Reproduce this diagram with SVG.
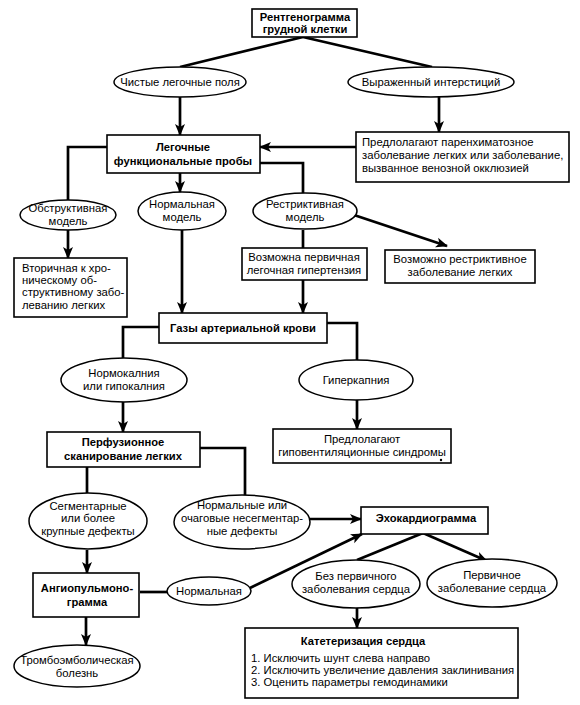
<svg xmlns="http://www.w3.org/2000/svg" width="580" height="705" viewBox="0 0 580 705">
<style>
.box{fill:#fff;stroke:#000;stroke-width:1.6}
.ell{fill:#fff;stroke:#000;stroke-width:1.5}
.t{font-family:"Liberation Sans",Arial,sans-serif;font-size:11.3px;fill:#000}
.b{font-family:"Liberation Sans",Arial,sans-serif;font-size:11.2px;font-weight:bold;fill:#000}
.m{text-anchor:middle}
.c{fill:none;stroke:#000;stroke-width:2.7}
.ca{fill:none;stroke:#000;stroke-width:2.7;marker-end:url(#ah)}
</style>
<defs>
<marker id="ah" markerUnits="userSpaceOnUse" markerWidth="12" markerHeight="12" viewBox="0 0 12 12" refX="11" refY="6" orient="auto">
<path d="M0,1 L12,6 L0,11 L3,6 Z" fill="#000"/>
</marker>
</defs>
<rect width="580" height="705" fill="#fff"/>
<g id="connectors">
<path class="c" d="M303,37 L180,67"/>
<path class="c" d="M303,37 L432,67"/>
<path class="ca" d="M180,97 L180,135"/>
<path class="ca" d="M439,97 L439,132"/>
<path class="ca" d="M356,147 L260,147"/>
<path class="c" d="M107,147 L68,147 L68,200"/>
<path class="c" d="M260,163 L303,163 L303,193"/>
<path class="ca" d="M180,173 L180,192"/>
<path class="ca" d="M68,230 L68,258"/>
<path class="ca" d="M182,230 L182,313"/>
<path class="c" d="M303,230 L303,248"/>
<path class="ca" d="M303,280 L303,313"/>
<path class="ca" d="M354,215 L447,246"/>
<path class="c" d="M159,327 L123,327 L123,358"/>
<path class="c" d="M327,323 L357,323 L357,360"/>
<path class="ca" d="M123,402 L123,432"/>
<path class="ca" d="M357,400 L357,429"/>
<path class="c" d="M87,467 L87,493"/>
<path class="c" d="M200,448 L245,448 L245,495"/>
<path class="ca" d="M310,519 L361,519"/>
<path class="ca" d="M87,550 L87,573"/>
<path class="c" d="M140,592 L167,592"/>
<path class="ca" d="M250,588 L362,534"/>
<path class="c" d="M423,533 L357,560"/>
<path class="ca" d="M423,533 L487,561"/>
<path class="ca" d="M357,608 L357,628"/>
<path class="ca" d="M86,617 L86,645"/>
</g>
<g id="xray">
<rect class="box" x="252" y="9" width="105" height="28"/>
<text class="b m" x="305" y="21">Рентгенограмма</text>
<text class="b m" x="305" y="33">грудной клетки</text>
</g>
<g id="clear">
<ellipse class="ell" cx="180" cy="82" rx="66" ry="15"/>
<text class="t m" x="180" y="86">Чистые легочные поля</text>
</g>
<g id="inter">
<ellipse class="ell" cx="431" cy="82" rx="83" ry="15"/>
<text class="t m" x="431" y="86">Выраженный интерстиций</text>
</g>
<g id="pft">
<rect class="box" x="107" y="135" width="153" height="38"/>
<text class="b m" x="183" y="151">Легочные</text>
<text class="b m" x="183" y="165">функциональные пробы</text>
</g>
<g id="parench">
<rect class="box" x="356" y="132" width="213" height="50"/>
<text class="t" x="362" y="146">Предлолагают паренхиматозное</text>
<text class="t" x="362" y="159">заболевание легких или заболевание,</text>
<text class="t" x="362" y="172">вызванное венозной окклюзией</text>
</g>
<g id="obstr">
<ellipse class="ell" cx="68" cy="215" rx="48" ry="15"/>
<text class="t m" x="68" y="212">Обструктивная</text>
<text class="t m" x="68" y="225">модель</text>
</g>
<g id="normal">
<ellipse class="ell" cx="182" cy="211" rx="44" ry="19"/>
<text class="t m" x="182" y="208">Нормальная</text>
<text class="t m" x="182" y="221">модель</text>
</g>
<g id="restr">
<ellipse class="ell" cx="305" cy="211" rx="52" ry="18"/>
<text class="t m" x="305" y="208">Рестриктивная</text>
<text class="t m" x="305" y="221">модель</text>
</g>
<g id="secondary">
<rect class="box" x="14" y="258" width="113" height="59"/>
<text class="t" x="22" y="272">Вторичная к хро-</text>
<text class="t" x="22" y="284">ническому об-</text>
<text class="t" x="22" y="296">структивному забо-</text>
<text class="t" x="22" y="309">леванию легких</text>
</g>
<g id="pph">
<rect class="box" x="242" y="248" width="125" height="32"/>
<text class="t m" x="304" y="261">Возможна первичная</text>
<text class="t m" x="304" y="274">легочная гипертензия</text>
</g>
<g id="restrdis">
<rect class="box" x="385" y="250" width="150" height="33"/>
<text class="t m" x="460" y="263">Возможно рестриктивное</text>
<text class="t m" x="460" y="276">заболевание легких</text>
</g>
<g id="abg">
<rect class="box" x="159" y="313" width="168" height="30"/>
<text class="b m" x="243" y="332">Газы артериальной крови</text>
</g>
<g id="normocap">
<ellipse class="ell" cx="124" cy="380" rx="63" ry="22"/>
<text class="t m" x="124" y="377">Нормокалния</text>
<text class="t m" x="124" y="390">или гипокалния</text>
</g>
<g id="hypercap">
<ellipse class="ell" cx="356" cy="380" rx="57" ry="20"/>
<text class="t m" x="356" y="384">Гиперкапния</text>
</g>
<g id="perf">
<rect class="box" x="47" y="432" width="153" height="35"/>
<text class="b m" x="123" y="446">Перфузионное</text>
<text class="b m" x="123" y="460">сканирование легких</text>
</g>
<g id="hypovent">
<rect class="box" x="273" y="429" width="178" height="34"/>
<text class="t m" x="362" y="443">Предлолагают</text>
<text class="t m" x="362" y="456">гиповентиляционные синдромы</text>
<circle cx="441" cy="460" r="1.2" fill="#000"/>
</g>
<g id="segm">
<ellipse class="ell" cx="88" cy="521" rx="59" ry="28"/>
<text class="t m" x="88" y="510">Сегментарные</text>
<text class="t m" x="88" y="522">или  более</text>
<text class="t m" x="88" y="535">крупные дефекты</text>
</g>
<g id="nonsegm">
<ellipse class="ell" cx="242" cy="522" rx="68" ry="27"/>
<text class="t m" x="242" y="509">Нормальные или</text>
<text class="t m" x="242" y="522">очаговые несегментар-</text>
<text class="t m" x="242" y="535">ные дефекты</text>
</g>
<g id="echo">
<rect class="box" x="361" y="507" width="127" height="27"/>
<text class="b m" x="426" y="522">Эхокардиограмма</text>
</g>
<g id="angio">
<rect class="box" x="33" y="573" width="106" height="44"/>
<text class="b m" x="87" y="592">Ангиопульмоно-</text>
<text class="b m" x="87" y="606">грамма</text>
</g>
<g id="angionorm">
<ellipse class="ell" cx="209" cy="591" rx="42" ry="14"/>
<text class="t m" x="209" y="595">Нормальная</text>
</g>
<g id="noheart">
<ellipse class="ell" cx="356" cy="584" rx="64" ry="24"/>
<text class="t m" x="356" y="580">Без первичного</text>
<text class="t m" x="356" y="593">заболевания сердца</text>
</g>
<g id="heart">
<ellipse class="ell" cx="492" cy="583" rx="65" ry="24"/>
<text class="t m" x="492" y="579">Первичное</text>
<text class="t m" x="492" y="592">заболевание сердца</text>
</g>
<g id="thrombo">
<ellipse class="ell" cx="77" cy="666" rx="63" ry="21"/>
<text class="t m" x="77" y="664">Тромбоэмболическая</text>
<text class="t m" x="77" y="677">болезнь</text>
</g>
<g id="cath">
<rect class="box" x="245" y="628" width="273" height="70"/>
<text class="b m" x="363" y="645">Катетеризация сердца</text>
<text class="t" x="251" y="662">1. Исключить шунт слева направо</text>
<text class="t" x="251" y="674">2. Исключить увеличение давления заклинивания</text>
<text class="t" x="251" y="686">3. Оценить параметры гемодинамики</text>
</g>
</svg>
